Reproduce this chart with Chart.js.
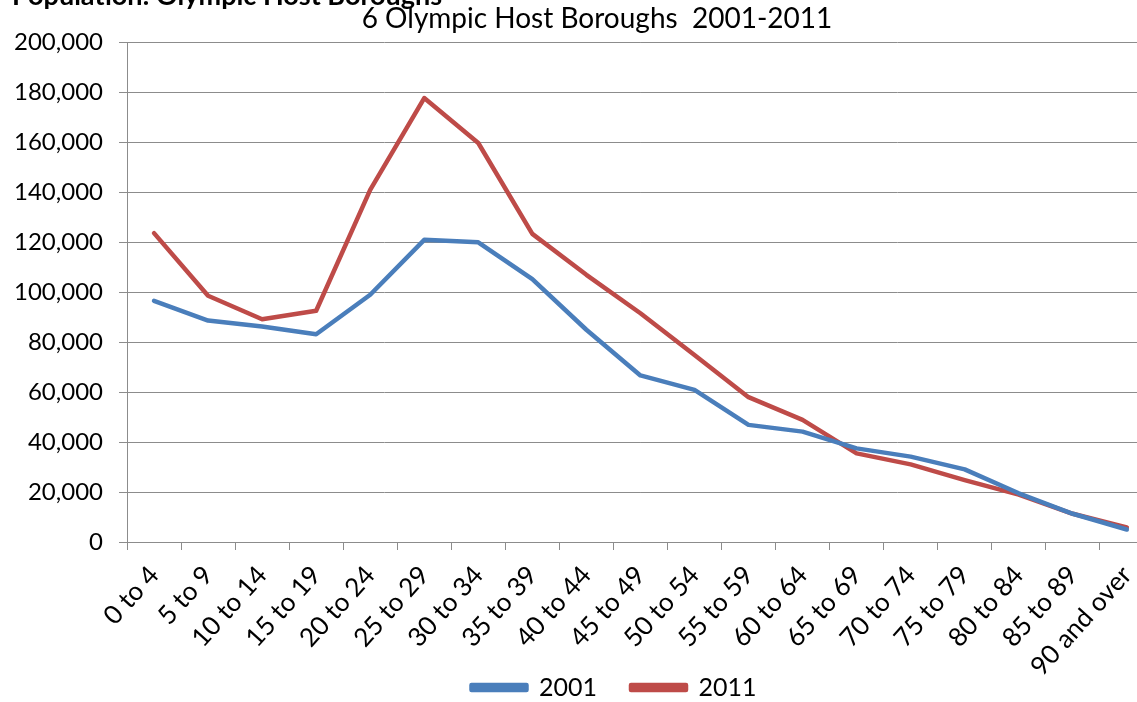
<!DOCTYPE html>
<html>
<head>
<meta charset="utf-8">
<script src="https://cdn.jsdelivr.net/npm/chart.js@4.4.1/dist/chart.umd.min.js"></script>
<style>
  html, body { margin: 0; padding: 0; width: 1137px; height: 702px; overflow: hidden; background: #fff; }
  #wrap { position: absolute; left: 0; top: 0; }
  #sheetTitle { position: absolute; left: 12px; top: -19px; font: bold 27px/27px Lato, sans-serif; color: #000; white-space: nowrap; z-index: 2; }
</style>
</head>
<body>
<div id="sheetTitle">Population: Olympic Host Boroughs</div>
<div id="wrap"><canvas id="c" width="1160" height="756"></canvas></div>
<script>
// Age bands (five-year groups)
const ageBands = ['0 to 4', '5 to 9', '10 to 14', '15 to 19', '20 to 24', '25 to 29', '30 to 34',
  '35 to 39', '40 to 44', '45 to 49', '50 to 54', '55 to 59', '60 to 64', '65 to 69',
  '70 to 74', '75 to 79', '80 to 84', '85 to 89', '90 and over'];

// Residents per age band, six Olympic host boroughs
const pop2001 = [96600, 88700, 86300, 83200, 99000, 121000, 120000, 105300, 85000, 66700,
  60900, 46900, 44200, 37500, 34200, 29100, 19500, 11300, 5000];
const pop2011 = [123700, 98600, 89200, 92600, 141000, 177800, 159800, 123400, 107000, 91600,
  74900, 58000, 48900, 35500, 31100, 24800, 19000, 11300, 5800];

const seriesNames = ['2001', '2011'];
const yMin = 0, yMax = 200000, yStep = 20000;

const FONT = 'Lato, "Open Sans", sans-serif';
const GRID = '#8c8c8c';

// Nudge the title and legend: centre them on the whole frame and tuck the
// legend up beside the long rotated category labels
const shiftBoxes = {
  id: 'shiftBoxes',
  afterLayout(chart) {
    const t = chart.titleBlock, l = chart.legend;
    if (t) { t.left += 17; t.right += 17; }
    if (l) { l.left += 34; l.right += 34; l.top -= 46; l.bottom -= 46; }
  }
};

new Chart(document.getElementById('c'), {
  type: 'line',
  data: {
    labels: ageBands,
    datasets: [
      { label: seriesNames[0], data: pop2001, borderColor: '#4a7ebb', backgroundColor: '#4a7ebb',
        borderWidth: 4.5, pointRadius: 0, tension: 0, borderCapStyle: 'round', borderJoinStyle: 'round' },
      { label: seriesNames[1], data: pop2011, borderColor: '#be4b48', backgroundColor: '#be4b48',
        borderWidth: 4.5, pointRadius: 0, tension: 0, borderCapStyle: 'round', borderJoinStyle: 'round' }
    ]
  },
  plugins: [shiftBoxes],
  options: {
    responsive: false,
    animation: false,
    devicePixelRatio: 1,
    layout: { padding: { left: 0, right: 0, top: 0, bottom: 0 } },
    plugins: {
      title: {
        display: true,
        text: '6 Olympic Host Boroughs  2001-2011',
        color: '#000',
        font: { family: FONT, size: 28, weight: 'normal' },
        padding: { top: 2, bottom: 7 }
      },
      legend: {
        position: 'bottom',
        labels: {
          color: '#000',
          font: { family: FONT, size: 25 },
          boxWidth: 55,
          boxHeight: 5,
          padding: 34
        }
      },
      tooltip: { enabled: false }
    },
    scales: {
      x: {
        offset: true,
        grid: { offset: true, drawOnChartArea: false, color: GRID, tickLength: 8 },
        border: { color: GRID },
        ticks: { color: '#000', font: { family: FONT, size: 26 }, maxRotation: 48, minRotation: 48, autoSkip: false, padding: 10 },
        afterFit: s => { s.height = 145; }
      },
      y: {
        min: yMin, max: yMax,
        grid: { color: GRID, tickLength: 8 },
        border: { color: GRID },
        ticks: {
          stepSize: yStep,
          color: '#000',
          font: { family: FONT, size: 24 },
          padding: 16,
          callback: v => v.toLocaleString('en-US')
        },
        afterFit: s => { s.width = 127; }
      }
    }
  }
});
</script>
</body>
</html>
